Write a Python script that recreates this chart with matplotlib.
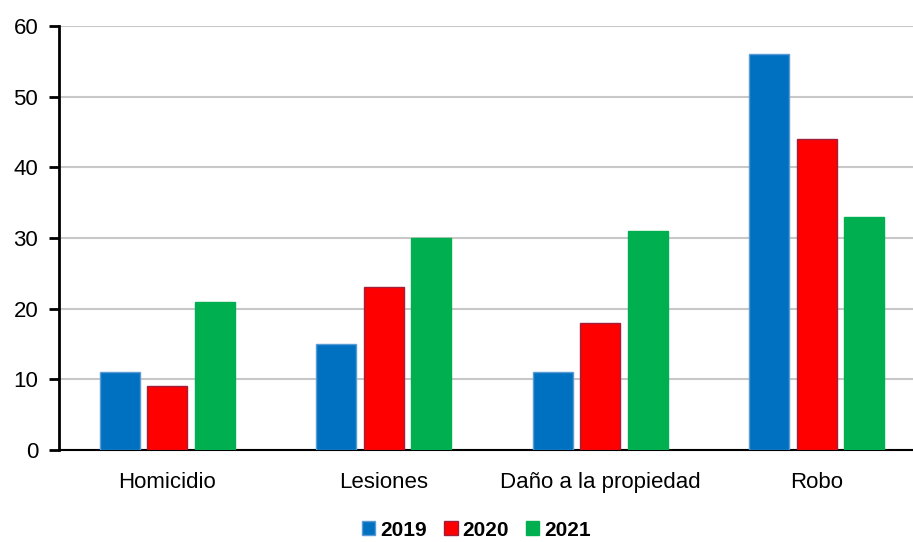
import matplotlib.pyplot as plt
import numpy as np
from matplotlib import font_manager

categories = ["Homicidio", "Lesiones", "Daño a la propiedad", "Robo"]
years = ["2019", "2020", "2021"]
values_2019 = [11, 15, 11, 56]
values_2020 = [9, 23, 18, 44]
values_2021 = [21, 30, 31, 33]

colors = ["#0070C0", "#FF0000", "#00B050"]
edges = ["#5B9BD5", "#A0203C", "#00B050"]

installed = {f.name for f in font_manager.fontManager.ttflist}
families = [f for f in ["Liberation Sans", "DejaVu Sans"] if f in installed]
plt.rcParams["font.family"] = families

fig = plt.figure(figsize=(9.13, 5.42), dpi=100)
ax = fig.add_axes([59 / 913, 1 - 450 / 542, 1 - 59 / 913, (450 - 26) / 542])

x = np.arange(len(categories))
step = 0.219
width = 0.185
series = [values_2019, values_2020, values_2021]
for i, (vals, year) in enumerate(zip(series, years)):
    ax.bar(x + (i - 1) * step, vals, width, color=colors[i], edgecolor=edges[i],
           linewidth=1, label=year, zorder=3)

ax.set_ylim(0, 60)
ax.set_yticks(range(0, 61, 10))
ax.set_xlim(-0.5, 3.444)
ax.set_xticks(x)
ax.set_xticklabels(categories)
ax.tick_params(axis="x", length=0, pad=16, labelsize=16)
ax.tick_params(axis="y", length=7, width=2, direction="out", labelsize=16, pad=8)
ax.grid(axis="y", color="#C8C8C8", linewidth=1.5, zorder=0)
for s in ["top", "right"]:
    ax.spines[s].set_visible(False)
ax.spines["left"].set_linewidth(2)
ax.spines["bottom"].set_linewidth(1.5)

leg = fig.legend(loc="lower center", bbox_to_anchor=(0.522, -0.03), ncol=3, frameon=False,
                 prop={"weight": "bold", "size": 15}, handlelength=0.65, handleheight=0.65,
                 handletextpad=0.25, columnspacing=0.8)

fig.savefig("out.png", dpi=100)
